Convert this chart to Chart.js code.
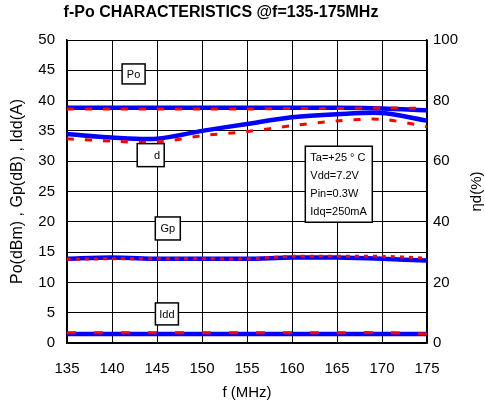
<!DOCTYPE html>
<html>
<head>
<meta charset="utf-8">
<script src="https://cdn.jsdelivr.net/npm/chart.js@4.4.1/dist/chart.umd.min.js"></script>
<style>
  html, body { margin: 0; padding: 0; background: #fff; }
  #wrap { width: 485px; height: 407px; }
</style>
</head>
<body>
<div id="wrap"><canvas id="myChart" width="485" height="407"></canvas></div>
<script>
// frequency points (MHz)
var freq = [135, 140, 145, 150, 155, 160, 165, 170, 175]

// output power (dBm)
var poA = [38.8, 38.8, 38.8, 38.8, 38.8, 38.8, 38.8, 38.7, 38.4]
var poB = [38.6, 38.6, 38.6, 38.6, 38.6, 38.7, 38.7, 38.8, 38.7]
// drain efficiency (%) - right axis
var etaA = [69.0, 67.8, 67.4, 70.0, 72.3, 74.5, 75.5, 75.9, 73.4]
var etaB = [67.4, 66.6, 66.3, 68.4, 69.8, 71.7, 73.3, 73.8, 71.4]
// power gain (dB)
var gpA = [13.9, 14.1, 13.9, 13.9, 13.9, 14.1, 14.1, 13.9, 13.6]
var gpB = [13.8, 13.9, 13.9, 13.9, 13.9, 14.3, 14.3, 14.3, 14.0]
// drain current (A)
var iddA = [1.5, 1.5, 1.5, 1.5, 1.5, 1.5, 1.5, 1.5, 1.5]
var iddB = [1.7, 1.7, 1.7, 1.7, 1.7, 1.7, 1.7, 1.7, 1.5]

// boxed labels, placed in data coordinates [f, left-axis value]
var noteText = ['Po', 'd', 'Gp', 'Idd']
var noteAt = [[142.4, 44.4], [144.3, 31.0], [146.2, 18.9], [146.1, 4.8]]
var condText = ['Ta=+25 \u00b0 C', 'Vdd=7.2V', 'Pin=0.3W', 'Idq=250mA']
var condAt = [165.2, 26.2]

var titleText = 'f-Po CHARACTERISTICS @f=135-175MHz'
var fontFamily = '"Liberation Sans", Arial, sans-serif'

function pts(ys) {
    var out = []
    for (let i = 0; i < freq.length; i++) {
        out.push({ x: freq[i], y: ys[i] })
    }
    return out
}

function solid(ys, axis) {
    return { data: pts(ys), yAxisID: axis, borderColor: '#0000ff', borderWidth: 4.5, pointRadius: 0, tension: 0.3, fill: false }
}
function dashed(ys, axis, dash) {
    return { data: pts(ys), yAxisID: axis, borderColor: '#ff0000', borderWidth: 3, borderDash: dash, pointRadius: 0, tension: 0.3, fill: false }
}

const notes = {
    id: 'notes',
    afterDatasetsDraw(chart) {
        const ctx = chart.ctx
        const xs = chart.scales.x, ys = chart.scales.y
        ctx.save()
        ctx.font = '11px ' + fontFamily
        ctx.textBaseline = 'middle'
        ctx.strokeStyle = '#000'
        ctx.lineWidth = 1.5
        var sizes = [[23, 20], [27, 23], [25, 23], [23, 22]]
        for (let i = 0; i < noteText.length; i++) {
            var cx = xs.getPixelForValue(noteAt[i][0])
            var cy = ys.getPixelForValue(noteAt[i][1])
            var w = sizes[i][0], h = sizes[i][1]
            ctx.fillStyle = '#fff'
            ctx.fillRect(cx - w / 2, cy - h / 2, w, h)
            ctx.strokeRect(cx - w / 2, cy - h / 2, w, h)
            ctx.fillStyle = '#000'
            if (noteText[i] == 'd') {
                ctx.textAlign = 'right'
                ctx.fillText(noteText[i], cx + w / 2 - 4, cy + 1)
            } else {
                ctx.textAlign = 'center'
                ctx.fillText(noteText[i], cx, cy + 1)
            }
        }
        // operating conditions
        var bx = xs.getPixelForValue(condAt[0]), by = ys.getPixelForValue(condAt[1])
        var bw = 67, bh = 76
        ctx.fillStyle = '#fff'
        ctx.fillRect(bx - bw / 2, by - bh / 2, bw, bh)
        ctx.strokeRect(bx - bw / 2, by - bh / 2, bw, bh)
        ctx.fillStyle = '#000'
        ctx.textAlign = 'left'
        for (let j = 0; j < condText.length; j++) {
            ctx.fillText(condText[j], bx - bw / 2 + 5, by - bh / 2 + 12 + j * 18)
        }

        // heading
        ctx.font = 'bold 16px ' + fontFamily
        ctx.textAlign = 'center'
        ctx.fillText(titleText, 221, 13)

        // right axis title, reading bottom to top
        const area = chart.chartArea
        ctx.font = '15px ' + fontFamily
        ctx.translate(477, (area.top + area.bottom) / 2)
        ctx.rotate(-Math.PI / 2)
        ctx.fillText('\u03b7d(%)', 0, 0)
        ctx.restore()
    }
}

const tickFont = { family: fontFamily, size: 15 }

const ctx = document.getElementById('myChart').getContext('2d')
const myChart = new Chart(ctx, {
    type: 'line',
    data: {
        datasets: [
            dashed(poB, 'y', [7, 11]),
            dashed(etaB, 'y1', [7, 11]),
            dashed(gpB, 'y', [4, 5]),
            dashed(iddB, 'y', [9, 18]),
            solid(poA, 'y'),
            solid(etaA, 'y1'),
            solid(gpA, 'y'),
            solid(iddA, 'y')
        ]
    },
    plugins: [notes],
    options: {
        responsive: false,
        animation: false,
        layout: { padding: { top: 40 } },
        plugins: {
            legend: { display: false },
            tooltip: { enabled: false },
            title: { display: false }
        },
        scales: {
            x: {
                type: 'linear',
                min: 135,
                max: 175,
                ticks: { stepSize: 5, color: '#000', font: tickFont, padding: 17 },
                grid: { color: '#000', lineWidth: 1, drawTicks: false },
                border: { color: '#000', width: 1.5 },
                title: { display: true, text: 'f (MHz)', color: '#000', font: tickFont, padding: { top: 0, bottom: 5 } },
                afterFit: function (s) { s.height = 64 }
            },
            y: {
                position: 'left',
                min: 0,
                max: 50,
                ticks: { stepSize: 5, color: '#000', font: tickFont, padding: 12 },
                grid: { color: '#000', lineWidth: 1, drawTicks: false },
                border: { color: '#000', width: 1.5 },
                title: { display: true, text: 'Po(dBm) , Gp(dB) , Idd(A)', color: '#000', font: { family: fontFamily, size: 16 }, padding: { top: 8, bottom: 0 } },
                afterFit: function (s) { s.width = 67 }
            },
            y1: {
                position: 'right',
                min: 0,
                max: 100,
                ticks: { stepSize: 20, color: '#000', font: tickFont, padding: 6 },
                grid: { display: false, drawTicks: false },
                border: { color: '#000', width: 1.5 },
                afterFit: function (s) { s.width = 58 }
            }
        }
    }
})
</script>
</body>
</html>
